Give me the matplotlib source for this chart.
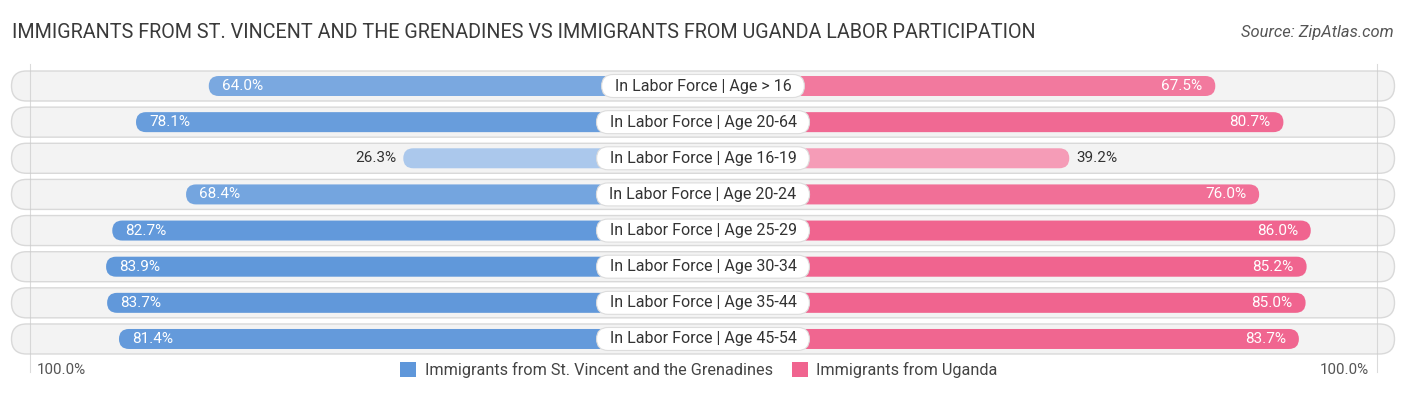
import matplotlib
matplotlib.use("Agg")
import matplotlib.pyplot as plt
from matplotlib.patches import FancyBboxPatch, Patch
import numpy as np

# ── data ──────────────────────────────────────────────────────────────────────
categories = [
    "In Labor Force | Age > 16",
    "In Labor Force | Age 20-64",
    "In Labor Force | Age 16-19",
    "In Labor Force | Age 20-24",
    "In Labor Force | Age 25-29",
    "In Labor Force | Age 30-34",
    "In Labor Force | Age 35-44",
    "In Labor Force | Age 45-54",
]
st_vincent = [64.0, 78.1, 26.3, 68.4, 82.7, 83.9, 83.7, 81.4]
uganda = [67.5, 80.7, 39.2, 76.0, 86.0, 85.2, 85.0, 83.7]

series_names = ["Immigrants from St. Vincent and the Grenadines", "Immigrants from Uganda"]
title = "IMMIGRANTS FROM ST. VINCENT AND THE GRENADINES VS IMMIGRANTS FROM UGANDA LABOR PARTICIPATION"
source = "Source: ZipAtlas.com"

# ── style ─────────────────────────────────────────────────────────────────────
plt.rcParams["font.family"] = ["Roboto", "DejaVu Sans"]

W_PX, H_PX = 1406, 395
PX = 5.16          # pixels per percentage point
ROW = 36.14        # pixels per row
OFF = 164 / PX     # bars start hidden under the centre label
ASPECT = PX / ROW

BLUE, BLUE_L = np.array([0x5f, 0x97, 0xda]) / 255, np.array([0xb3, 0xcd, 0xee]) / 255
PINK, PINK_L = np.array([0xf0, 0x64, 0x8f]) / 255, np.array([0xf7, 0xb3, 0xc8]) / 255
TXT = "#333333"


def shade(strong, light, v):
    t = np.clip((v - 20) / 65, 0, 1)
    return tuple(light + (strong - light) * t)


def rbox(ax, x0, x1, yc, h_px, **kw):
    h = h_px / ROW
    r = (h_px / 2) / PX
    p = FancyBboxPatch((x0, yc - h / 2), x1 - x0, h,
                       boxstyle=f"round,pad=0,rounding_size={r}",
                       mutation_aspect=ASPECT, **kw)
    ax.add_patch(p)
    return p


fig = plt.figure(figsize=(W_PX / 100, H_PX / 100), dpi=100)
ax = fig.add_axes([0, 0, 1, 1])
half = (W_PX / 2) / PX
ax.set_xlim(-half, half)
ax.set_ylim((H_PX - 86) / ROW, -86 / ROW)
ax.axis("off")

fig.text(12 / W_PX, 1 - 33 / H_PX, title, fontsize=14.2, color="#3a3a3a", va="center", ha="left")
fig.text(1 - 12 / W_PX, 1 - 33 / H_PX, source, fontsize=11.9, color="#555555",
         va="center", ha="right", style="italic")

pill_half = 691.5 / PX
labels = []
for i, (cat, a, b) in enumerate(zip(categories, st_vincent, uganda)):
    rbox(ax, -pill_half, pill_half, i, 30, facecolor="#f3f3f3", edgecolor="#d9d9d9",
         linewidth=1.0, zorder=1)

    ca = shade(BLUE, BLUE_L, a)
    cb = shade(PINK, PINK_L, b)
    la, lb = OFF + a, OFF + b
    rbox(ax, -la, 0, i, 20, facecolor=ca, edgecolor="none", zorder=2)
    rbox(ax, 0, lb, i, 20, facecolor=cb, edgecolor="none", zorder=2)

    pad = 13 / PX
    if a >= 50:
        ax.text(-la + pad, i, f"{a:.1f}%", color="white", fontsize=11, va="center", ha="left", zorder=4)
    else:
        ax.text(-la - 7 / PX, i, f"{a:.1f}%", color=TXT, fontsize=11, va="center", ha="right", zorder=4)
    if b >= 50:
        ax.text(lb - pad, i, f"{b:.1f}%", color="white", fontsize=11, va="center", ha="right", zorder=4)
    else:
        ax.text(lb + 7 / PX, i, f"{b:.1f}%", color=TXT, fontsize=11, va="center", ha="left", zorder=4)

    labels.append(ax.text(0, i, cat, fontsize=11.5, color=TXT, va="center", ha="center", zorder=6))

# centre label boxes sized to their text
fig.canvas.draw()
renderer = fig.canvas.get_renderer()
for i, t in enumerate(labels):
    bb = t.get_window_extent(renderer)
    w = (bb.width + 26) / PX
    rbox(ax, -w / 2, w / 2, i, 23, facecolor="white", edgecolor="#dddddd", linewidth=0.8, zorder=5)

# faint guide lines at the 100% marks
for xv in (-(673.5 / PX), 673.5 / PX):
    ax.plot([xv, xv], [-0.6, 7.9], color="#cccccc", lw=0.8, zorder=3, alpha=0.7)

fig.text(37 / W_PX, 1 - 370 / H_PX, "100.0%", fontsize=10.9, color="#555555", va="center", ha="left")
fig.text(1 - 37 / W_PX, 1 - 370 / H_PX, "100.0%", fontsize=10.9, color="#555555", va="center", ha="right")

handles = [Patch(facecolor=tuple(BLUE), label=series_names[0]),
           Patch(facecolor=tuple(PINK), label=series_names[1])]
fig.legend(handles=handles, loc="center", bbox_to_anchor=(699 / W_PX, 1 - 370 / H_PX),
           ncol=2, frameon=False, fontsize=11.7, handlelength=1.0, handleheight=1.0,
           handletextpad=0.5, columnspacing=1.2, labelcolor="#444444")

fig.savefig("out.png", dpi=100)
